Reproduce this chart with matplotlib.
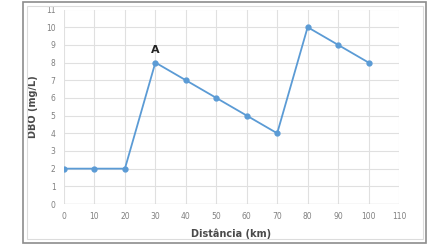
import matplotlib.pyplot as plt
from matplotlib.patches import Rectangle

# data
distancia = [0, 10, 20, 30, 40, 50, 60, 70, 80, 90, 100]
dbo = [2, 2, 2, 8, 7, 6, 5, 4, 10, 9, 8]
xticks = list(range(0, 111, 10))
yticks = list(range(0, 12))

fig = plt.figure(figsize=(4.43, 2.48), dpi=100)
fig.patch.set_facecolor('white')

# outer frame and inner light frame
fig.patches.append(Rectangle((23 / 443, 5 / 248), 403 / 443, 241 / 248,
                             transform=fig.transFigure, fill=False,
                             edgecolor='#8c8c8c', linewidth=1.2))
fig.patches.append(Rectangle((26.5 / 443, 9.5 / 248), 396 / 443, 233 / 248,
                             transform=fig.transFigure, fill=False,
                             edgecolor='#dcdcdc', linewidth=0.8))

ax = fig.add_axes([64 / 443, 1 - 204 / 248, 335 / 443, 194.5 / 248])
ax.plot(distancia, dbo, color='#5b9bd5', linewidth=1.3,
        marker='o', markersize=3.5, zorder=3)

ax.set_xlim(0, 110)
ax.set_ylim(0, 11)
ax.set_xticks(xticks)
ax.set_yticks(yticks)
ax.grid(True, color='#e0e0e0', linewidth=0.8)
ax.set_axisbelow(True)
for s in ax.spines.values():
    s.set_visible(False)
ax.axhline(0, color='#d0d0d0', linewidth=0.9, zorder=1)
ax.tick_params(length=0, labelsize=5.5, labelcolor='#808080', pad=6)

ax.set_xlabel('Distância (km)', fontsize=7, fontweight='semibold',
              color='#4a4a4a', labelpad=5)
ax.set_ylabel('DBO (mg/L)', fontsize=7, fontweight='semibold',
              color='#4a4a4a', labelpad=6)

ax.text(distancia[3], dbo[3] + 0.4, 'A', ha='center', va='bottom',
        fontsize=8, fontweight='bold', color='#222222')

fig.savefig('out.png', dpi=100)
